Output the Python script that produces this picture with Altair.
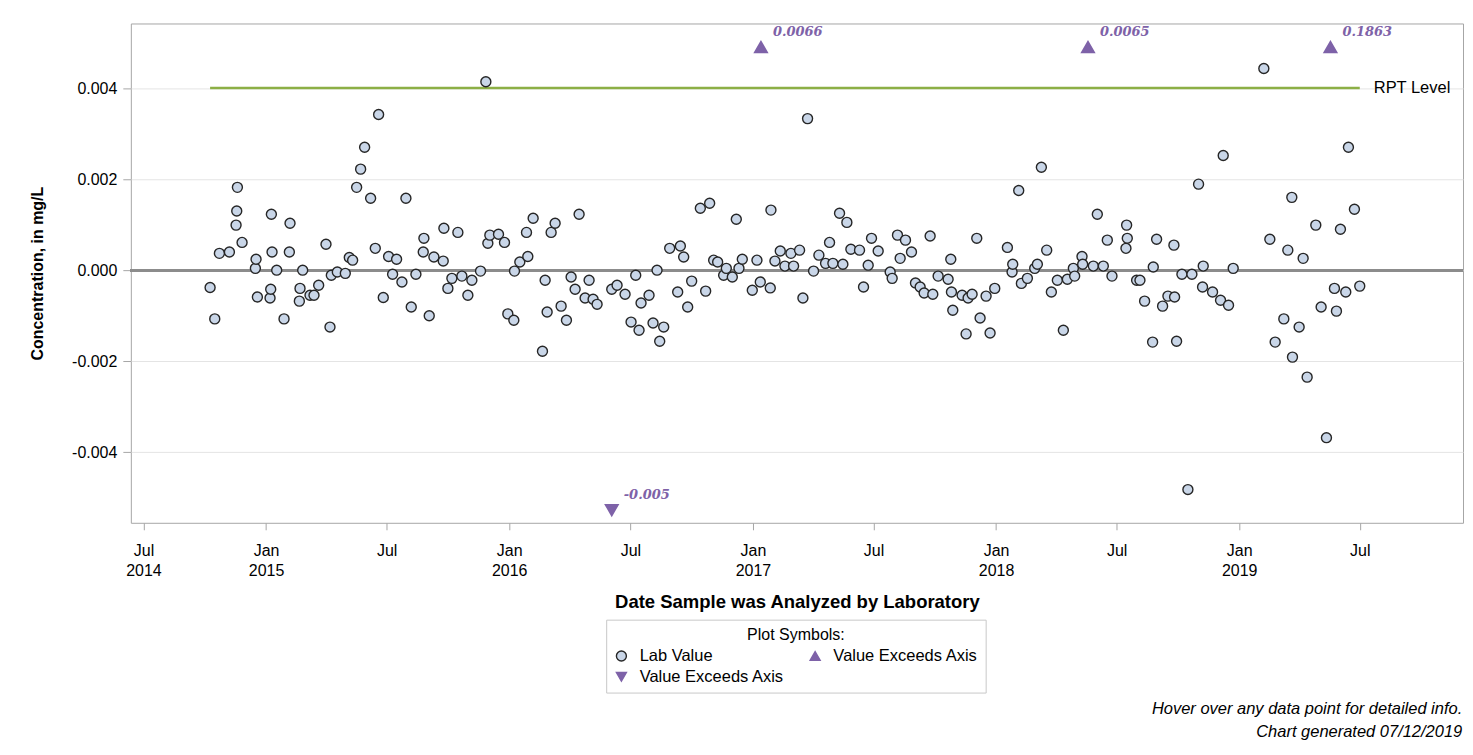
import altair as alt
import pandas as pd

# sample values (mg/L) by analysis date, one pair of lists per year
DATES_2014 = ["2014-10-09", "2014-10-16", "2014-10-23", "2014-11-07", "2014-11-17",
              "2014-11-18", "2014-11-19", "2014-11-26", "2014-12-16", "2014-12-17",
              "2014-12-19"]
VALUES_2014 = [-0.00038, -0.00107, 0.00037, 0.0004, 0.00099,
               0.0013, 0.00182, 0.00061, 0.00004, 0.00024,
               -0.00059]

DATES_2015 = ["2015-01-07", "2015-01-08", "2015-01-09", "2015-01-10", "2015-01-17",
              "2015-01-28", "2015-02-05", "2015-02-06", "2015-02-20", "2015-02-21",
              "2015-02-25", "2015-03-08", "2015-03-14", "2015-03-21", "2015-04-01",
              "2015-04-07", "2015-04-09", "2015-04-18", "2015-04-30", "2015-05-06",
              "2015-05-11", "2015-05-17", "2015-05-23", "2015-05-29", "2015-06-07",
              "2015-06-14", "2015-06-19", "2015-06-26", "2015-07-04", "2015-07-10",
              "2015-07-16", "2015-07-24", "2015-07-30", "2015-08-07", "2015-08-14",
              "2015-08-25", "2015-08-26", "2015-09-03", "2015-09-10", "2015-09-24",
              "2015-09-25", "2015-10-01", "2015-10-07", "2015-10-16", "2015-10-22",
              "2015-10-31", "2015-11-06", "2015-11-19", "2015-11-27", "2015-11-30",
              "2015-12-03", "2015-12-16", "2015-12-25", "2015-12-30"]
VALUES_2015 = [-0.00061, -0.00042, 0.00123, 0.0004, 0.0,
               -0.00107, 0.0004, 0.00103, -0.00068, -0.0004,
               0.0, -0.00055, -0.00055, -0.00033, 0.00057,
               -0.00125, -0.00011, -0.00004, -0.00007, 0.00028,
               0.00022, 0.00182, 0.00222, 0.0027, 0.00158,
               0.00048, 0.00342, -0.0006, 0.0003, -0.00009,
               0.00024, -0.00026, 0.00158, -0.00081, -0.00009,
               0.0004, 0.0007, -0.001, 0.00029, 0.0002,
               0.00092, -0.0004, -0.00018, 0.00083, -0.00013,
               -0.00055, -0.00022, -0.00002, 0.00414, 0.00059,
               0.00077, 0.00079, 0.00061, -0.00096]

DATES_2016 = ["2016-01-08", "2016-01-09", "2016-01-17", "2016-01-27", "2016-01-29",
              "2016-02-06", "2016-02-20", "2016-02-24", "2016-02-27", "2016-03-04",
              "2016-03-10", "2016-03-19", "2016-03-27", "2016-04-03", "2016-04-09",
              "2016-04-15", "2016-04-24", "2016-04-30", "2016-05-06", "2016-05-12",
              "2016-06-03", "2016-06-11", "2016-06-23", "2016-07-02", "2016-07-09",
              "2016-07-14", "2016-07-17", "2016-07-29", "2016-08-04", "2016-08-10",
              "2016-08-14", "2016-08-20", "2016-08-29", "2016-09-10", "2016-09-14",
              "2016-09-19", "2016-09-25", "2016-10-01", "2016-10-14", "2016-10-22",
              "2016-10-28", "2016-11-03", "2016-11-09", "2016-11-18", "2016-11-22",
              "2016-12-01", "2016-12-07", "2016-12-11", "2016-12-16", "2016-12-31"]
VALUES_2016 = [-0.0011, -0.00002, 0.00018, 0.00083, 0.0003,
               0.00114, -0.00178, -0.00022, -0.00092, 0.00083,
               0.00103, -0.00079, -0.0011, -0.00015, -0.00042,
               0.00123, -0.00061, -0.00022, -0.00064, -0.00075,
               -0.00042, -0.00033, -0.00053, -0.00114, -0.00011,
               -0.00132, -0.00072, -0.00055, -0.00116, 0.0,
               -0.00156, -0.00125, 0.00048, -0.00048, 0.00053,
               0.00029, -0.00081, -0.00024, 0.00136, -0.00046,
               0.00147, 0.00022, 0.00018, -0.00011, 0.00004,
               -0.00015, 0.00112, 0.00004, 0.00024, -0.00044]

DATES_2017 = ["2017-01-07", "2017-01-12", "2017-01-27", "2017-01-28", "2017-02-03",
              "2017-02-11", "2017-02-18", "2017-02-27", "2017-03-03", "2017-03-12",
              "2017-03-17", "2017-03-24", "2017-04-02", "2017-04-10", "2017-04-20",
              "2017-04-26", "2017-05-01", "2017-05-11", "2017-05-16", "2017-05-22",
              "2017-05-28", "2017-06-10", "2017-06-16", "2017-06-23", "2017-06-28",
              "2017-07-08", "2017-07-26", "2017-07-29", "2017-08-06", "2017-08-10",
              "2017-08-18", "2017-08-27", "2017-09-02", "2017-09-09", "2017-09-15",
              "2017-09-24", "2017-09-28", "2017-10-06", "2017-10-21", "2017-10-25",
              "2017-10-26", "2017-10-28", "2017-11-11", "2017-11-17", "2017-11-20",
              "2017-11-26", "2017-12-03", "2017-12-08", "2017-12-17", "2017-12-23",
              "2017-12-30"]
VALUES_2017 = [0.00022, -0.00026, -0.00039, 0.00132, 0.0002,
               0.00042, 0.00009, 0.00037, 0.00009, 0.00044,
               -0.00061, 0.00333, -0.00002, 0.00033, 0.00015,
               0.00061, 0.00015, 0.00125, 0.00013, 0.00105,
               0.00046, 0.00044, -0.00037, 0.00011, 0.0007,
               0.00042, -0.00004, -0.00018, 0.00077, 0.00026,
               0.00066, 0.0004, -0.00028, -0.00037, -0.0005,
               0.00075, -0.00053, -0.00013, -0.0002, 0.00024,
               -0.00048, -0.00088, -0.00055, -0.0014, -0.00061,
               -0.00053, 0.0007, -0.00105, -0.00057, -0.00138,
               -0.0004]

DATES_2018 = ["2018-01-18", "2018-01-25", "2018-01-26", "2018-02-04", "2018-02-08",
              "2018-02-17", "2018-02-28", "2018-03-04", "2018-03-10", "2018-03-18",
              "2018-03-25", "2018-04-03", "2018-04-12", "2018-04-18", "2018-04-27",
              "2018-04-29", "2018-05-10", "2018-05-11", "2018-05-27", "2018-06-02",
              "2018-06-11", "2018-06-17", "2018-06-24", "2018-07-15", "2018-07-16",
              "2018-07-17", "2018-07-31", "2018-08-05", "2018-08-12", "2018-08-24",
              "2018-08-25", "2018-08-30", "2018-09-08", "2018-09-16", "2018-09-25",
              "2018-09-26", "2018-09-29", "2018-10-07", "2018-10-16", "2018-10-22",
              "2018-11-01", "2018-11-07", "2018-11-08", "2018-11-22", "2018-12-04",
              "2018-12-08", "2018-12-16", "2018-12-23"]
VALUES_2018 = [0.0005, -0.00004, 0.00013, 0.00175, -0.00029,
               -0.00018, 0.00004, 0.00013, 0.00226, 0.00044,
               -0.00048, -0.00022, -0.00132, -0.0002, 0.00004,
               -0.00013, 0.0003, 0.00013, 0.00009, 0.00123,
               0.00009, 0.00066, -0.00013, 0.00048, 0.00099,
               0.0007, -0.00022, -0.00022, -0.00068, -0.00158,
               0.00007, 0.00068, -0.00079, -0.00057, 0.00055,
               -0.00059, -0.00156, -0.00009, -0.00482, -0.00009,
               0.00189, -0.00037, 0.00009, -0.00048, -0.00066,
               0.00252, -0.00077, 0.00004]

DATES_2019 = ["2019-02-07", "2019-02-16", "2019-02-24", "2019-03-09", "2019-03-15",
              "2019-03-21", "2019-03-22", "2019-04-01", "2019-04-07", "2019-04-13",
              "2019-04-26", "2019-05-04", "2019-05-12", "2019-05-24", "2019-05-27",
              "2019-06-02", "2019-06-10", "2019-06-14", "2019-06-23", "2019-07-01"]
VALUES_2019 = [0.00443, 0.00068, -0.00158, -0.00107, 0.00044,
               0.0016, -0.00191, -0.00125, 0.00026, -0.00235,
               0.00099, -0.00081, -0.00368, -0.0004, -0.0009,
               0.0009, -0.00048, 0.0027, 0.00134, -0.00035]

# samples whose value falls outside the plotted range
EXCEED_DATES = ["2016-06-03", "2017-01-13", "2018-05-19", "2019-05-18"]
EXCEED_VALUES = [-0.005, 0.0066, 0.0065, 0.1863]

RPT_LEVEL = 0.004
AXIS_TOP = 0.0049       # exceedances above are pinned here
AXIS_BOTTOM = -0.00527  # ... and below here

Y_TICKS = [-0.004, -0.002, 0.0, 0.002, 0.004]
X_TICKS = [(2014, 7), (2015, 1), (2015, 7), (2016, 1), (2016, 7), (2017, 1),
           (2017, 7), (2018, 1), (2018, 7), (2019, 1), (2019, 7)]
# legend fills column by column: low-flag sits under "Lab Value"
SYMBOLS = ["Lab Value", "Exceeds Low", "Exceeds High"]
SHAPES = ["circle", "triangle-down", "triangle-up"]

POINT_FILL = "#c9d6e8"
POINT_EDGE = "#262626"
PURPLE = "#7e62a8"
GREEN = "#8caf45"

dates = DATES_2014 + DATES_2015 + DATES_2016 + DATES_2017 + DATES_2018 + DATES_2019
values = VALUES_2014 + VALUES_2015 + VALUES_2016 + VALUES_2017 + VALUES_2018 + VALUES_2019
samples = pd.DataFrame({"Date": pd.to_datetime(dates), "Value": values})
samples["Symbol"] = "Lab Value"

exceed = pd.DataFrame({"Date": pd.to_datetime(EXCEED_DATES), "Value": EXCEED_VALUES})
exceed["Plotted"] = [AXIS_TOP if v > 0 else AXIS_BOTTOM for v in exceed["Value"]]
exceed["Symbol"] = ["Exceeds High" if v > 0 else "Exceeds Low" for v in exceed["Value"]]
exceed["Label"] = [str(v) for v in exceed["Value"]]

rpt = pd.DataFrame({
    "Date": [samples["Date"].min(), samples["Date"].max()],
    "Level": [RPT_LEVEL, RPT_LEVEL],
})

x_scale = alt.Scale(domain=[alt.DateTime(year=2014, month=6, date=12),
                            alt.DateTime(year=2019, month=12, date=3)])
y_scale = alt.Scale(domain=[-0.00555, 0.00542], nice=False, zero=False)

x_axis = alt.Axis(
    values=[alt.DateTime(year=y, month=m, date=1) for y, m in X_TICKS],
    labelExpr="month(datum.value) == 0 || datum.index == 0"
              " ? [timeFormat(datum.value, '%b'), timeFormat(datum.value, '%Y')]"
              " : timeFormat(datum.value, '%b')",
    labelLineHeight=20, labelPadding=13, tickSize=7, labelAngle=0,
    titlePadding=14, titleFontSize=18.5, grid=False, domain=False,
)
y_axis = alt.Axis(
    values=Y_TICKS,
    labelExpr="replace(format(datum.value, '.3f'), '\u2212', '-')",
    tickSize=8, labelPadding=6, titlePadding=26, grid=True, domain=False,
)

symbol_legend = alt.Legend(
    orient="none", legendX=476, legendY=597,
    columns=2, columnPadding=22, rowPadding=4, padding=7,
    titleAnchor="middle", titleFontWeight="normal", titleFontSize=16,
    titleColor="black", titlePadding=5,
    labelFontSize=16.5, labelColor="black", labelOffset=10,
    symbolSize=100, symbolStrokeWidth=1.4, strokeColor="#c8c8c8",
    labelExpr="indexof(datum.label, 'Exceeds') == 0 ? 'Value Exceeds Axis' : datum.label",
)
shape = alt.Shape("Symbol:N", title="Plot Symbols:", legend=symbol_legend,
                  scale=alt.Scale(domain=SYMBOLS, range=SHAPES))
fill = alt.Fill("Symbol:N", title="Plot Symbols:", legend=symbol_legend,
                scale=alt.Scale(domain=SYMBOLS, range=[POINT_FILL, PURPLE, PURPLE]))
stroke = alt.Stroke("Symbol:N", title="Plot Symbols:", legend=symbol_legend,
                    scale=alt.Scale(domain=SYMBOLS, range=[POINT_EDGE, PURPLE, PURPLE]))

zero_line = alt.Chart(samples).mark_rule(color="#8c8c8c", strokeWidth=2.5).encode(
    y=alt.datum(0)
)

rpt_line = alt.Chart(rpt).mark_line(color=GREEN, strokeWidth=2.5).encode(
    x=alt.X("Date:T", scale=x_scale, axis=x_axis,
            title="Date Sample was Analyzed by Laboratory"),
    y=alt.Y("Level:Q", scale=y_scale, axis=y_axis, title="Concentration, in mg/L"),
)

rpt_label = alt.Chart(rpt.tail(1)).mark_text(
    align="left", dx=14, fontSize=16.5, color="black"
).encode(x="Date:T", y="Level:Q", text=alt.value("RPT Level"))

points = alt.Chart(samples).mark_point(
    filled=True, size=100, strokeWidth=1.4, opacity=1
).encode(
    x="Date:T",
    y="Value:Q",
    shape=shape, fill=fill, stroke=stroke,
    tooltip=[alt.Tooltip("Date:T", title="Date Analyzed", format="%m/%d/%Y"),
             alt.Tooltip("Value:Q", title="Concentration (mg/L)", format=".5f")],
)

flags = alt.Chart(exceed).mark_point(filled=True, size=140, opacity=1).encode(
    x="Date:T",
    y="Plotted:Q",
    shape=shape, fill=fill, stroke=stroke,
    tooltip=[alt.Tooltip("Date:T", title="Date Analyzed", format="%m/%d/%Y"),
             alt.Tooltip("Label:N", title="Concentration (mg/L)")],
)

flag_labels = alt.Chart(exceed).mark_text(
    align="left", dx=12, dy=-15, font="DejaVu Serif", fontSize=13,
    fontStyle="italic", fontWeight="bold", color=PURPLE,
).encode(x="Date:T", y="Plotted:Q", text="Label:N")

chart = (
    alt.layer(zero_line, rpt_line, points, flags, flag_labels, rpt_label)
    .properties(
        width=1334, height=500,
        padding={"left": 21, "top": 15, "right": 0, "bottom": 0},
        title=alt.TitleParams(
            ["Hover over any data point for detailed info.", "Chart generated 07/12/2019"],
            orient="bottom", anchor="end", fontSize=16.5, fontStyle="italic",
            fontWeight="normal", color="black", lineHeight=23, offset=8, dx=-2,
        ),
    )
    .configure(font="Liberation Sans")
    .configure_view(stroke="#a6a6a6", strokeWidth=1)
    .configure_axis(
        labelFontSize=16, labelColor="black", titleFontSize=16, titleColor="black",
        titleFontWeight="bold", tickColor="#a6a6a6", gridColor="#e4e4e4",
    )
)

chart.save("out.html", embed_options={"renderer": "svg", "actions": False})
